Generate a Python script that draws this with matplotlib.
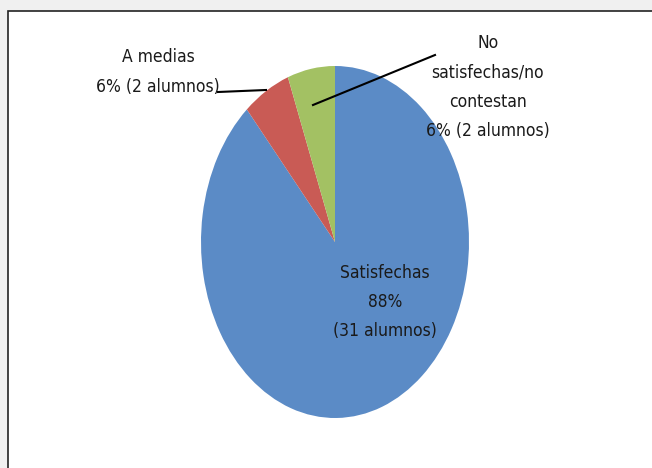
import matplotlib
matplotlib.use("Agg")
import matplotlib.pyplot as plt
from matplotlib.patches import Rectangle

categories = ["Satisfechas", "A medias", "No satisfechas/no contestan"]
values = [31, 2, 2]
percent_labels = ["88%", "6%", "6%"]
colors = ["#5B8BC6", "#C95B55", "#A3C163"]

plt.rcParams['font.family'] = ['DejaVu Sans']

W, H = 652, 468
fig = plt.figure(figsize=(W / 100, H / 100), dpi=100, facecolor="#f0f0f0")

bg = fig.add_axes([0, 0, 1, 1], facecolor="none", zorder=0)
bg.set_xlim(0, W)
bg.set_ylim(H, 0)
bg.axis('off')
bg.add_patch(Rectangle((8, 11), W, H, facecolor="white", edgecolor="#222222",
                       linewidth=1.2, clip_on=False))

left, right, top, bottom = 201, 469, 66, 418
ax = fig.add_axes([left / W, 1 - bottom / H, (right - left) / W, (bottom - top) / H], zorder=1)
ax.pie(values, colors=colors, startangle=90, counterclock=False,
       wedgeprops=dict(linewidth=0))
ax.set_aspect('auto')
ax.set_xlim(-1, 1)
ax.set_ylim(-1, 1)
ax.axis('off')

ov = fig.add_axes([0, 0, 1, 1], facecolor="none", zorder=2)
ov.set_xlim(0, W)
ov.set_ylim(H, 0)
ov.axis('off')

fs = 12.5
kw = dict(ha="center", va="center", fontsize=fs, linespacing=1.79, color="#1a1a1a",
          fontstretch="condensed")
ov.text(385, 302, f"{categories[0]}\n{percent_labels[0]}\n({values[0]} alumnos)", **kw)
ov.text(158, 72, f"{categories[1]}\n{percent_labels[1]} ({values[1]} alumnos)", **kw)
ov.text(488, 87, "No\nsatisfechas/no\ncontestan\n" + f"{percent_labels[2]} ({values[2]} alumnos)", **kw)

ov.plot([218, 266], [92, 90], color="black", linewidth=1.5)
ov.plot([313, 435], [105, 55], color="black", linewidth=1.5)

fig.savefig("out.png", dpi=100, facecolor=fig.get_facecolor())
